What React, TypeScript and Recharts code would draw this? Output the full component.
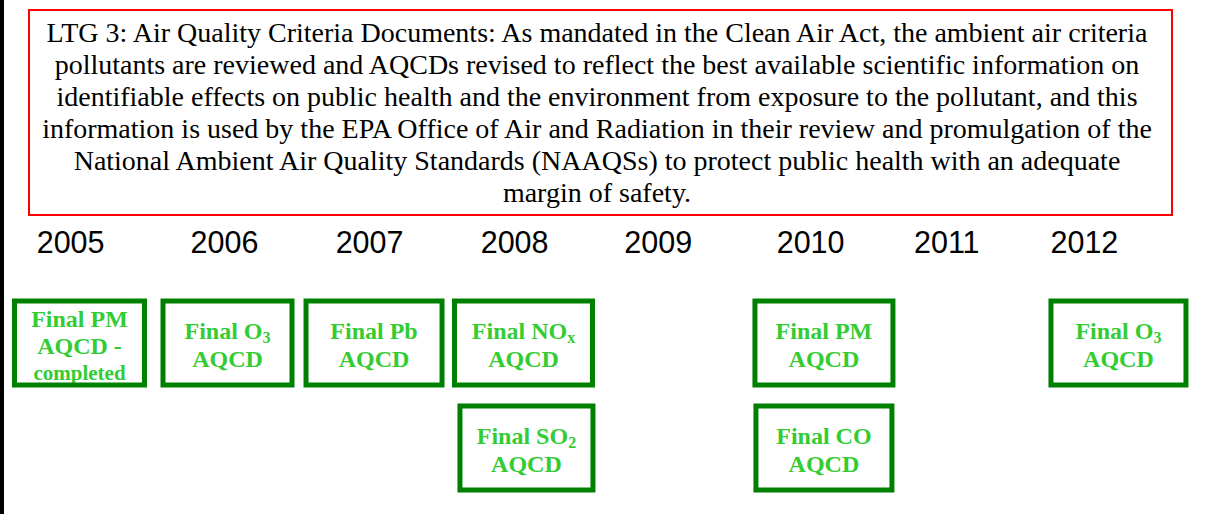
import React from "react";
import { ComposedChart, Scatter, XAxis, YAxis } from "recharts";

// Header text (one entry per displayed line)
const headerLines = [
  "LTG 3: Air Quality Criteria Documents: As mandated in the Clean Air Act, the ambient air criteria",
  "pollutants are reviewed and AQCDs revised to reflect the best available scientific information on",
  "identifiable effects on public health and the environment from exposure to the pollutant, and this",
  "information is used by the EPA Office of Air and Radiation in their review and promulgation of the",
  "National Ambient Air Quality Standards (NAAQSs) to protect public health with an adequate",
  "margin of safety.",
];

// Year labels and their positions on the timeline
const yearLabels = ["2005", "2006", "2007", "2008", "2009", "2010", "2011", "2012"];
const yearLabelPos = [2004.94, 2005.98, 2006.96, 2007.94, 2008.91, 2009.94, 2010.86, 2011.79];

// Milestone boxes
const boxYears = [2005, 2006, 2006.99, 2008, 2008.02, 2010.03, 2010.03, 2012.02];
const boxRows = [1, 1, 1, 1, 2, 1, 2, 1];
const boxLine1 = ["Final PM", "Final O", "Final Pb", "Final NO", "Final SO", "Final PM", "Final CO", "Final O"];
const boxSub = ["", "3", "", "x", "2", "", "", "3"];
const boxLine2 = ["AQCD -", "AQCD", "AQCD", "AQCD", "AQCD", "AQCD", "AQCD", "AQCD"];
const boxLine3 = ["completed", "", "", "", "", "", "", ""];

// styling (outer box widths)
const boxWidths = [135, 134, 141, 143, 138, 143, 141, 140];
const BOX_H = 89;

const boxData = boxYears.map((x, i) => ({
  x,
  y: boxRows[i],
  l1: boxLine1[i],
  sub: boxSub[i],
  l2: boxLine2[i],
  l3: boxLine3[i],
  idx: i,
}));

const TEXT_GREEN = "#33cc33";
const BORDER_GREEN = "#008000";
const SERIF = "'Liberation Serif', 'Times New Roman', Times, serif";
const SANS = "'Liberation Sans', Arial, Helvetica, sans-serif";

const BoxShape = (props: any) => {
  const { cx, cy, payload } = props;
  if (cx == null || cy == null || !payload) return null;
  const w = boxWidths[payload.idx];
  const sw = 5;
  const x0 = cx - w / 2 + sw / 2;
  const y0 = cy - BOX_H / 2 + sw / 2;
  const iw = w - sw;
  const ih = BOX_H - sw;
  const three = !!payload.l3;
  const b1 = three ? -16 : -4;
  const b2 = three ? 11 : 23.5;
  return (
    <g>
      <rect x={x0} y={y0} width={iw} height={ih} fill="#ffffff" />
      <text
        x={cx}
        y={cy + b1}
        textAnchor="middle"
        fontFamily={SERIF}
        fontWeight="bold"
        fontSize={24}
        fill={TEXT_GREEN}
      >
        {payload.l1}
        {payload.sub ? (
          <tspan fontSize={16} dy={4}>
            {payload.sub}
          </tspan>
        ) : null}
      </text>
      <text
        x={cx}
        y={cy + b2}
        textAnchor="middle"
        fontFamily={SERIF}
        fontWeight="bold"
        fontSize={24}
        fill={TEXT_GREEN}
      >
        {payload.l2}
      </text>
      {three ? (
        <text
          x={cx}
          y={cy + 37}
          textAnchor="middle"
          fontFamily={SERIF}
          fontWeight="bold"
          fontSize={21}
          fill={TEXT_GREEN}
        >
          {payload.l3}
        </text>
      ) : null}
      <rect x={x0} y={y0} width={iw} height={ih} fill="none" stroke={BORDER_GREEN} strokeWidth={sw} />
    </g>
  );
};

const YearTick = (props: any) => {
  const { x, y, payload } = props;
  const i = yearLabelPos.indexOf(payload.value);
  return (
    <text x={x} y={y} textAnchor="middle" fontFamily={SANS} fontSize={30.5} fill="#000000">
      {i >= 0 ? yearLabels[i] : ""}
    </text>
  );
};

export default function App() {
  return (
    <div
      style={{
        position: "absolute",
        left: 0,
        top: 0,
        width: 1207,
        height: 514,
        background: "#ffffff",
        overflow: "hidden",
      }}
    >
      <ComposedChart
        width={1207}
        height={514}
        data={boxData}
        margin={{ top: 220, right: 17.5, bottom: 13.5, left: 5.5 }}
      >
        <XAxis
          type="number"
          dataKey="x"
          orientation="top"
          domain={[2004.5, 2012.5]}
          ticks={yearLabelPos}
          interval={0}
          height={70.5}
          tickSize={0}
          tickMargin={37.5}
          axisLine={false}
          tickLine={false}
          tick={<YearTick />}
          allowDataOverflow
        />
        <YAxis type="number" dataKey="y" domain={[0.5, 2.5]} reversed hide allowDataOverflow />
        <Scatter data={boxData} isAnimationActive={false} shape={(p: any) => <BoxShape {...p} />} />
      </ComposedChart>
      <svg
        width={1207}
        height={514}
        style={{ position: "absolute", left: 0, top: 0, pointerEvents: "none" }}
      >
        <rect x={0} y={0} width={4} height={514} fill="#000000" />
        <rect x={29} y={10} width={1143} height={205} fill="none" stroke="#ff0000" strokeWidth={2} />
        {headerLines.map((t, i) => (
          <text
            key={i}
            x={597}
            y={41.5 + i * 32}
            textAnchor="middle"
            fontFamily={SERIF}
            fontSize={28}
            fill="#000000"
          >
            {t}
          </text>
        ))}
      </svg>
    </div>
  );
}
